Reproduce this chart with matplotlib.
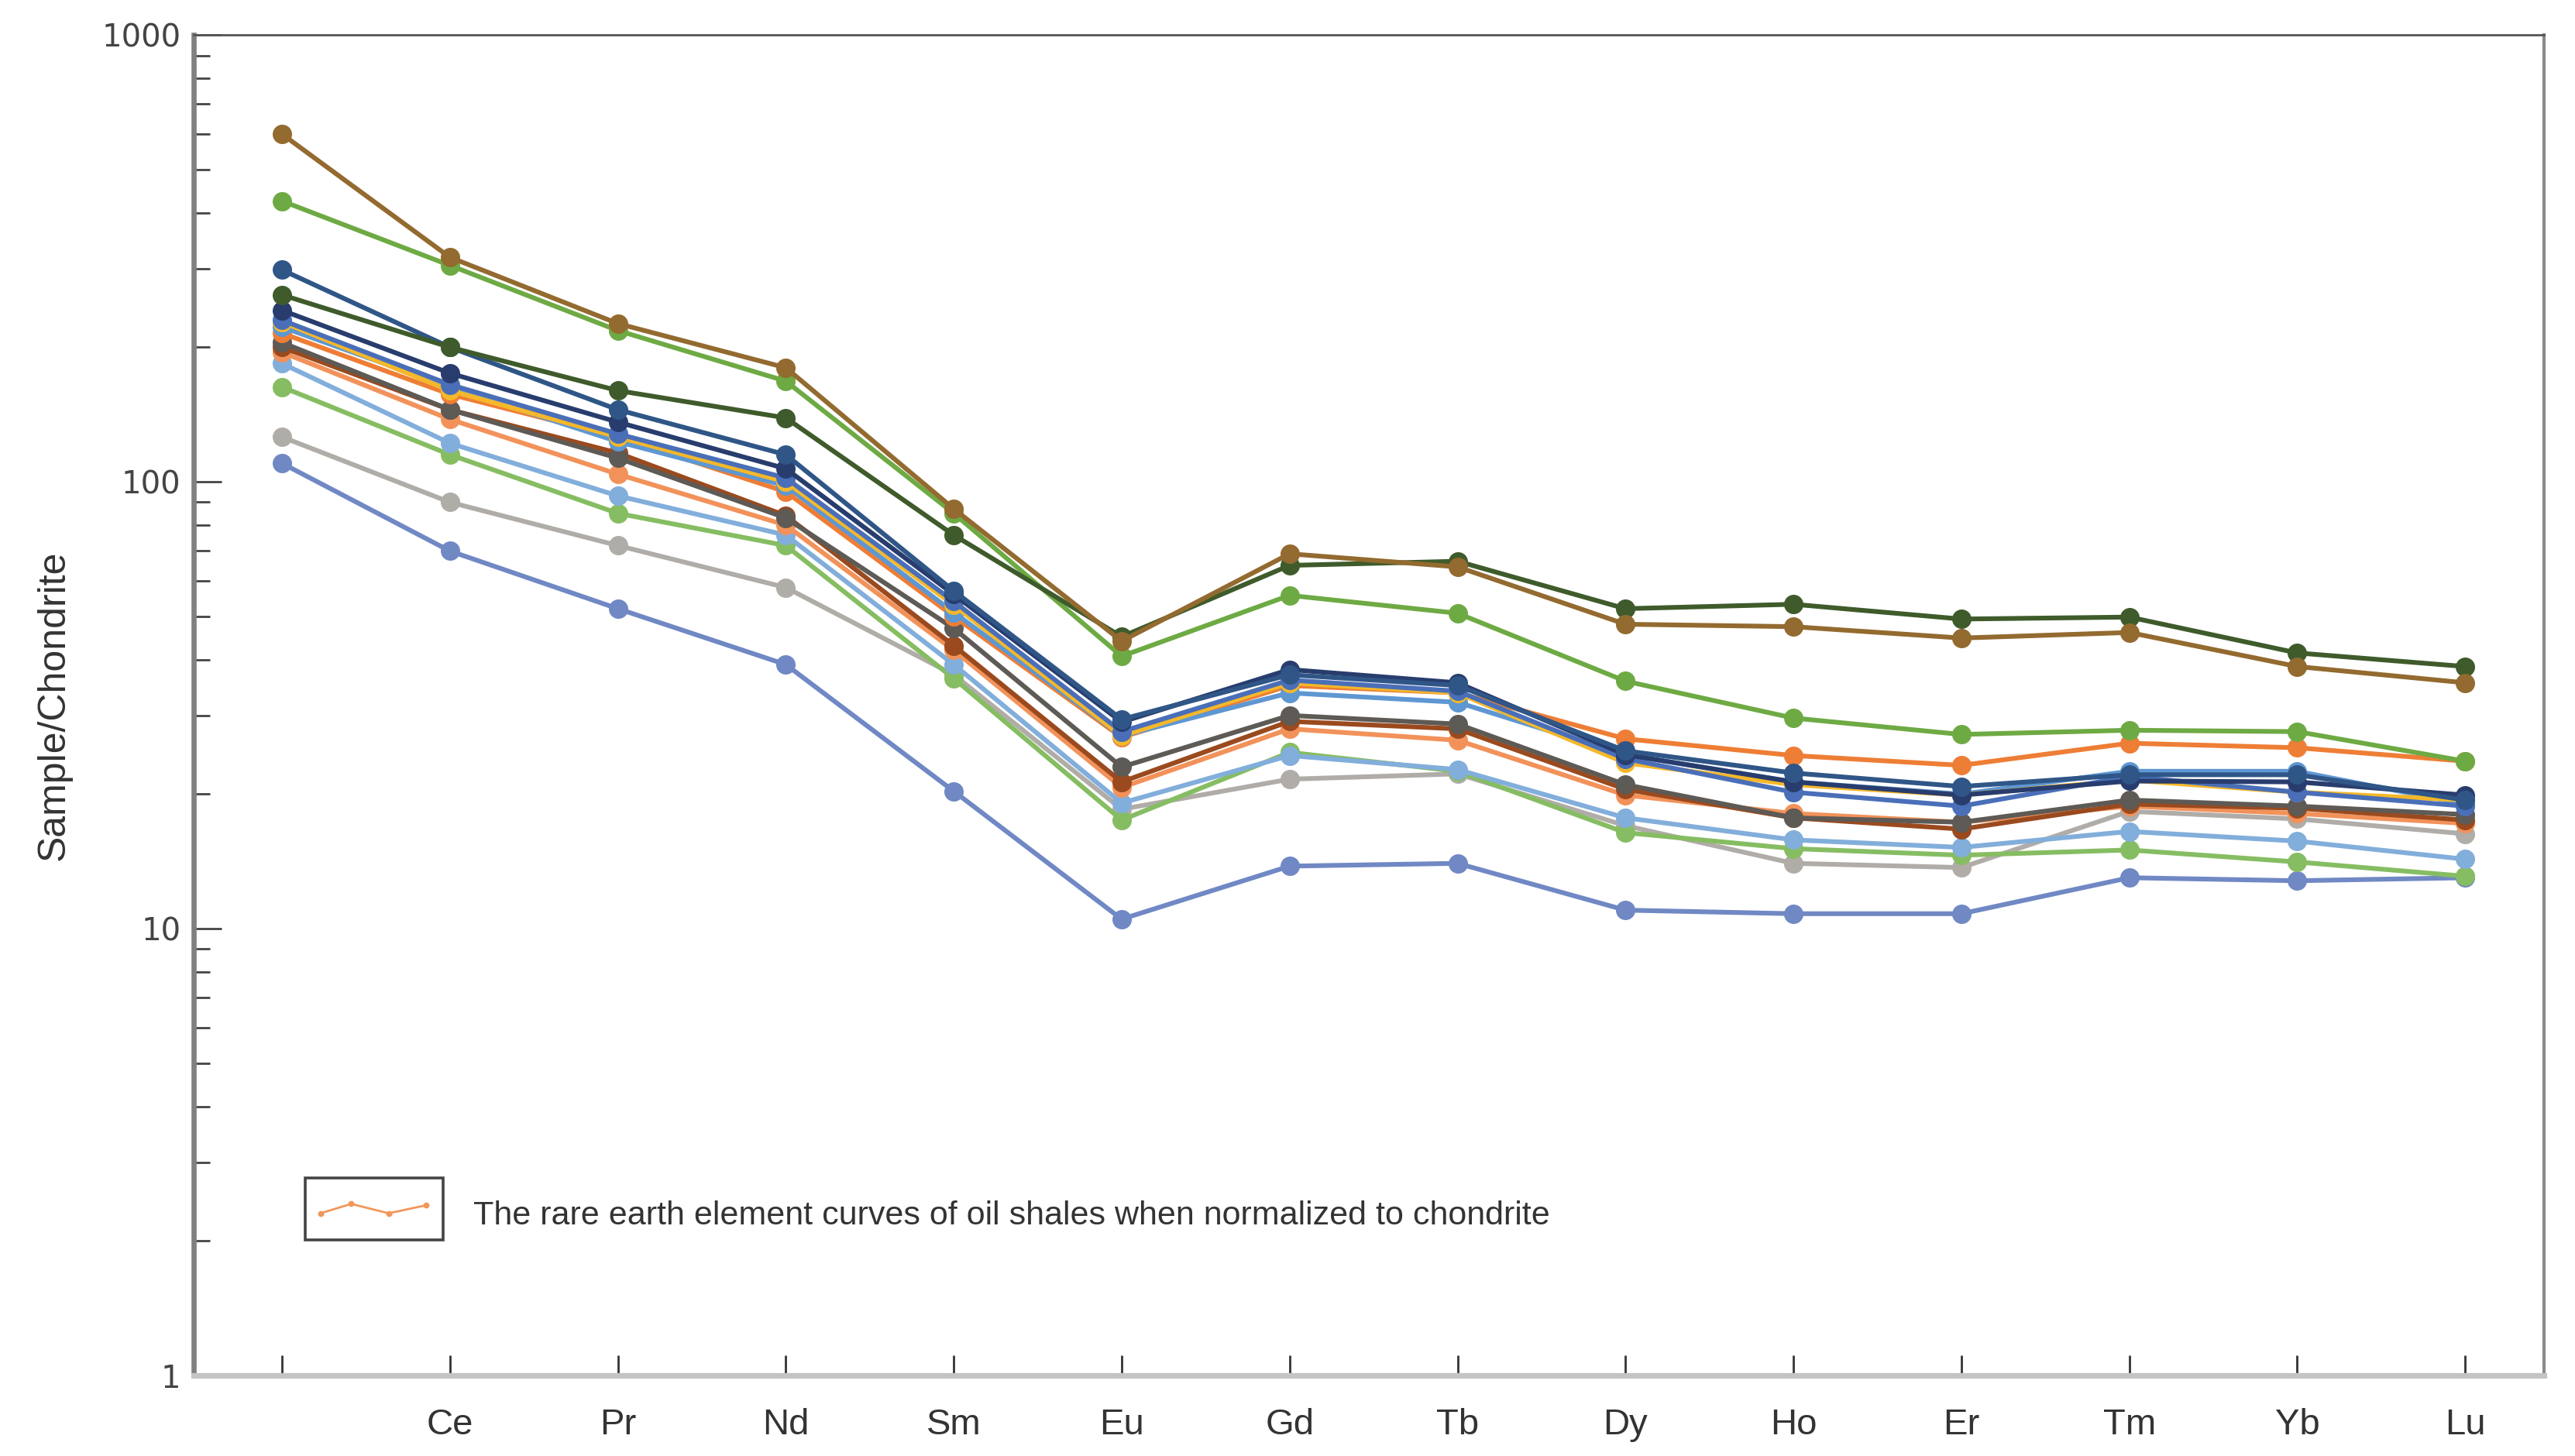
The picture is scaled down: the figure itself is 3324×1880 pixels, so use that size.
import numpy as np
import matplotlib.pyplot as plt
from matplotlib.patches import Rectangle
from matplotlib.lines import Line2D

elements = ["La", "Ce", "Pr", "Nd", "Sm", "Eu", "Gd", "Tb", "Dy", "Ho", "Er", "Tm", "Yb", "Lu"]
tick_labels = [""] + elements[1:]

# chondrite-normalised REE
s01 = [600, 318, 226, 180, 87, 44.0, 69.0, 64.5, 48.0, 47.4, 44.7, 46.0, 38.6, 35.5]
s02 = [425, 305, 218, 168, 85, 40.7, 55.7, 50.8, 35.8, 29.6, 27.2, 27.8, 27.6, 23.7]
s03 = [262, 200, 160, 139, 76, 45.0, 65.0, 66.4, 52.0, 53.2, 49.3, 49.8, 41.4, 38.6]
s04 = [298, 200, 145, 115, 57, 29.4, 37.0, 35.0, 25.0, 22.3, 20.8, 22.1, 22.1, 19.4]
s05 = [242, 175, 136, 107, 56, 29.0, 38.0, 35.5, 24.5, 21.3, 19.9, 21.4, 21.3, 19.9]
s06 = [230, 165, 128, 102, 54, 27.6, 36.0, 34.0, 24.0, 20.2, 18.8, 21.9, 20.2, 18.8]
s07 = [228, 160, 126, 100, 53, 27.0, 35.5, 33.7, 23.5, 21.0, 19.9, 21.5, 20.2, 19.4]
s08 = [222, 163, 123, 98, 51, 27.0, 33.7, 32.1, 24.5, 21.3, 20.0, 22.5, 22.5, 19.0]
s09 = [215, 157, 126, 95, 50, 26.8, 35.0, 33.7, 26.6, 24.4, 23.2, 26.0, 25.4, 23.7]
s10 = [205, 145, 113, 83, 47, 23.0, 30.0, 28.7, 21.0, 17.7, 17.3, 19.4, 18.8, 18.0]
s11 = [200, 145, 116, 84, 43, 21.3, 29.1, 28.0, 20.5, 17.7, 16.7, 19.0, 18.6, 17.5]
s12 = [195, 138, 104, 80, 42, 20.7, 28.0, 26.4, 19.9, 18.1, 17.3, 18.8, 18.1, 17.2]
s13 = [184, 122, 93, 76, 39, 19.1, 24.4, 22.7, 17.7, 15.8, 15.2, 16.5, 15.7, 14.3]
s14 = [163, 115, 85, 72, 36.3, 17.5, 24.8, 22.5, 16.4, 15.1, 14.6, 15.0, 14.1, 13.1]
s15 = [126, 90, 72, 58, 37, 18.5, 21.6, 22.2, 17.0, 14.0, 13.7, 18.3, 17.6, 16.3]
s16 = [110, 70, 52, 39, 20.3, 10.5, 13.8, 14.0, 11.0, 10.8, 10.8, 13.0, 12.8, 13.0]

series = [s16, s15, s14, s13, s12, s11, s10, s09, s08, s07, s06, s05, s04, s02, s03, s01]
colors = ["#7088c4", "#b0aca8", "#86bd62", "#82aedb", "#f2925a", "#9a4a1e", "#5e5a55",
          "#ee7e35", "#5e97d2", "#f5b82a", "#4a6fb8", "#283d6e", "#2f5687",
          "#6eaa44", "#3f5b2b", "#936a2f"]

plt.rcParams['font.family'] = ['Liberation Sans', 'DejaVu Sans']

fig = plt.figure(figsize=(16.62, 9.40), dpi=200)
ax = fig.add_axes([0.0752, 0.0553, 0.9128, 0.9207])

x = np.arange(len(elements))
for vals, col in zip(series, colors):
    ax.plot(x, vals, color=col, lw=2.2, marker='o', ms=8, mec=col, mfc=col)

ax.set_yscale('log')
ax.set_ylim(1, 1000)
ax.set_xlim(-0.526, 13.47)

ax.set_xticks(x)
ax.set_xticklabels(tick_labels, fontsize=17, color='#333333')
ax.tick_params(axis='x', direction='in', length=9.5, width=1.0, color='#333333', pad=15)
ax.set_yticks([1, 10, 100, 1000])
ax.set_yticklabels(["1", "10", "100", "1000"], fontsize=14.5, color='#444444',
                   family=['DejaVu Sans'])
ax.tick_params(axis='y', which='major', direction='in', length=13, width=1.0,
               color='#444444', pad=6)
ax.tick_params(axis='y', which='minor', direction='in', length=7.5, width=1.0,
               color='#444444')
ax.set_ylabel("Sample/Chondrite", fontsize=18, color='#333333', labelpad=14)

ax.spines['top'].set_color('#555555')
ax.spines['top'].set_linewidth(1.0)
ax.spines['right'].set_color('#8a8a8a')
ax.spines['right'].set_linewidth(1.5)
ax.spines['left'].set_color('#808080')
ax.spines['left'].set_linewidth(2.4)
ax.spines['bottom'].set_color('#c4c4c4')
ax.spines['bottom'].set_linewidth(2.6)

# legend: boxed sample glyph plus caption
ax.add_patch(Rectangle((0.0476, 0.101), 0.0587, 0.0466, transform=ax.transAxes,
                       fill=False, ec='#444444', lw=1.3))
zx = np.array([0.054, 0.067, 0.083, 0.099])
zy = np.array([0.121, 0.128, 0.121, 0.127])
ax.add_line(Line2D(zx, zy, transform=ax.transAxes, color='#F1975A', lw=1.0,
                   marker='o', ms=1.8))
ax.text(0.119, 0.119, "The rare earth element curves of oil shales when normalized to chondrite",
        transform=ax.transAxes, fontsize=15.5, color='#333333', va='center', ha='left')

fig.savefig("out.png", dpi=200)
